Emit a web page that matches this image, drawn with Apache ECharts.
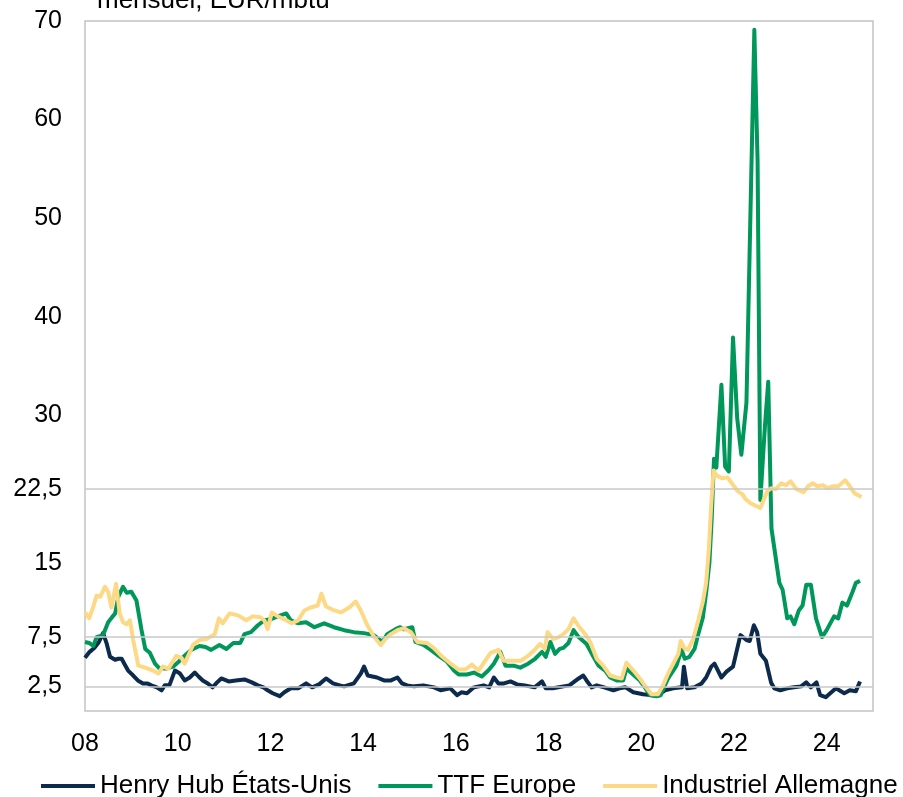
<!DOCTYPE html>
<html><head><meta charset="utf-8">
<script src="https://cdn.jsdelivr.net/npm/echarts@6/dist/echarts.min.js"></script>
<style>html,body{margin:0;padding:0;background:#fff}#c{width:903px;height:797px}</style>
</head><body><div id="c"></div>
<script>
// Henry Hub États-Unis
const hhT = [2008.00,2008.10,2008.20,2008.30,2008.39,2008.47,2008.54,2008.65,2008.72,2008.79,2008.86,2008.93,2009.04,2009.14,2009.25,2009.35,2009.43,2009.55,2009.65,2009.72,2009.82,2009.94,2010.05,2010.15,2010.26,2010.37,2010.45,2010.54,2010.65,2010.75,2010.85,2010.94,2011.10,2011.25,2011.44,2011.60,2011.73,2011.85,2011.94,2012.05,2012.20,2012.30,2012.44,2012.60,2012.77,2012.90,2013.05,2013.20,2013.35,2013.50,2013.59,2013.80,2013.95,2014.02,2014.10,2014.30,2014.45,2014.60,2014.74,2014.84,2014.95,2015.10,2015.30,2015.53,2015.67,2015.88,2016.03,2016.12,2016.24,2016.39,2016.60,2016.72,2016.82,2016.92,2017.04,2017.18,2017.32,2017.49,2017.70,2017.86,2017.94,2018.10,2018.32,2018.45,2018.65,2018.75,2018.82,2018.93,2019.04,2019.20,2019.40,2019.53,2019.66,2019.83,2020.04,2020.26,2020.40,2020.51,2020.69,2020.88,2020.92,2020.99,2021.15,2021.30,2021.40,2021.51,2021.58,2021.73,2021.84,2021.98,2022.14,2022.27,2022.34,2022.43,2022.50,2022.57,2022.69,2022.80,2022.87,2023.00,2023.15,2023.30,2023.45,2023.56,2023.66,2023.78,2023.86,2023.98,2024.20,2024.38,2024.50,2024.63,2024.72];
const hhV = [5.4,6.0,6.4,7.0,7.9,6.8,5.5,5.2,5.3,5.3,4.7,4.1,3.6,3.1,2.8,2.8,2.6,2.4,2.1,2.6,2.6,4.1,3.8,3.1,3.4,3.9,3.5,3.1,2.8,2.4,2.9,3.3,3.0,3.1,3.2,2.9,2.6,2.4,2.1,1.8,1.5,1.9,2.3,2.3,2.8,2.4,2.7,3.3,2.8,2.6,2.5,2.8,3.8,4.5,3.6,3.4,3.1,3.1,3.4,2.8,2.6,2.5,2.6,2.4,2.1,2.3,1.6,1.9,1.8,2.4,2.6,2.4,3.4,2.8,2.8,3.0,2.7,2.6,2.4,3.0,2.3,2.3,2.5,2.6,3.3,3.6,3.1,2.4,2.6,2.4,2.1,2.3,2.4,1.9,1.7,1.6,1.7,2.1,2.3,2.4,4.5,2.3,2.4,2.8,3.4,4.5,4.8,3.4,4.0,4.5,7.7,7.2,7.1,8.7,8.0,5.8,5.1,2.9,2.3,2.1,2.3,2.4,2.5,2.9,2.4,2.9,1.6,1.4,2.3,1.8,2.1,2.0,3.0];

// TTF Europe
const ttfT = [2008.00,2008.09,2008.18,2008.25,2008.39,2008.50,2008.58,2008.65,2008.72,2008.82,2008.90,2009.00,2009.11,2009.22,2009.30,2009.40,2009.51,2009.61,2009.75,2009.90,2010.02,2010.15,2010.29,2010.47,2010.60,2010.72,2010.90,2011.05,2011.20,2011.35,2011.44,2011.58,2011.73,2011.87,2012.00,2012.16,2012.34,2012.44,2012.59,2012.77,2012.95,2013.16,2013.37,2013.59,2013.80,2014.02,2014.23,2014.42,2014.52,2014.70,2014.80,2014.88,2015.06,2015.13,2015.30,2015.46,2015.63,2015.81,2015.96,2016.06,2016.24,2016.39,2016.56,2016.70,2016.82,2016.96,2017.07,2017.25,2017.39,2017.56,2017.71,2017.86,2017.94,2018.04,2018.14,2018.24,2018.32,2018.43,2018.54,2018.65,2018.82,2018.97,2019.08,2019.22,2019.33,2019.47,2019.61,2019.68,2019.80,2019.97,2020.08,2020.19,2020.33,2020.42,2020.51,2020.58,2020.69,2020.76,2020.87,2020.94,2021.04,2021.15,2021.23,2021.33,2021.40,2021.47,2021.52,2021.57,2021.62,2021.73,2021.81,2021.89,2021.98,2022.07,2022.16,2022.27,2022.44,2022.51,2022.57,2022.67,2022.74,2022.81,2022.98,2023.05,2023.15,2023.22,2023.30,2023.40,2023.48,2023.56,2023.66,2023.77,2023.90,2024.00,2024.16,2024.25,2024.34,2024.44,2024.56,2024.63,2024.72];
const ttfV = [7.0,6.9,6.6,7.5,7.7,9.0,9.5,9.9,11.6,12.6,12.0,12.1,11.2,8.2,6.3,5.9,4.8,4.3,4.3,4.5,5.0,5.6,6.2,6.6,6.5,6.2,6.7,6.3,6.9,6.9,7.8,8.0,8.7,9.2,9.3,9.6,9.9,9.2,8.9,9.0,8.5,8.9,8.5,8.2,8.0,7.9,7.7,7.0,7.8,8.3,8.5,8.3,8.5,7.0,6.7,6.2,5.6,5.0,4.1,3.7,3.7,3.9,3.5,4.1,4.8,6.0,4.6,4.6,4.4,4.8,5.3,6.0,5.5,7.0,5.8,6.3,6.4,6.9,8.2,7.5,6.8,5.5,4.6,4.1,3.4,3.1,3.1,4.3,3.8,3.1,2.4,1.6,1.5,1.6,2.6,3.3,4.1,4.6,6.2,5.3,5.5,6.3,7.8,9.5,12.0,15.0,19.5,25.6,24.7,33.1,24.8,24.3,37.9,29.7,26.0,31.3,69.1,55.8,21.4,29.0,33.4,18.5,13.0,12.3,9.4,9.6,8.8,10.2,10.7,12.8,12.8,9.4,7.5,8.2,9.6,9.4,11.0,10.7,12.1,13.0,13.2];

// Industriel Allemagne
const deT = [2008.00,2008.09,2008.18,2008.25,2008.33,2008.43,2008.50,2008.57,2008.67,2008.75,2008.82,2008.90,2008.97,2009.04,2009.15,2009.30,2009.47,2009.58,2009.68,2009.80,2009.97,2010.08,2010.15,2010.33,2010.47,2010.62,2010.80,2010.89,2010.97,2011.12,2011.30,2011.48,2011.62,2011.78,2011.87,2011.94,2012.03,2012.16,2012.30,2012.46,2012.60,2012.73,2012.87,2013.02,2013.10,2013.20,2013.38,2013.52,2013.70,2013.84,2013.95,2014.09,2014.24,2014.38,2014.48,2014.60,2014.74,2014.88,2015.03,2015.17,2015.38,2015.52,2015.71,2015.89,2016.06,2016.20,2016.35,2016.49,2016.62,2016.75,2016.92,2017.03,2017.25,2017.40,2017.56,2017.70,2017.82,2017.92,2017.98,2018.10,2018.22,2018.32,2018.43,2018.54,2018.65,2018.79,2018.90,2019.04,2019.18,2019.33,2019.47,2019.58,2019.68,2019.83,2019.97,2020.12,2020.22,2020.36,2020.47,2020.58,2020.69,2020.80,2020.85,2020.94,2021.01,2021.12,2021.23,2021.33,2021.40,2021.46,2021.51,2021.56,2021.62,2021.75,2021.86,2021.97,2022.08,2022.18,2022.25,2022.35,2022.48,2022.57,2022.64,2022.72,2022.80,2022.90,2023.02,2023.12,2023.22,2023.35,2023.50,2023.60,2023.70,2023.80,2023.92,2024.02,2024.12,2024.25,2024.40,2024.50,2024.60,2024.75];
const deV = [10.0,9.4,10.6,11.7,11.6,12.6,12.1,10.5,12.9,9.9,9.0,8.8,9.2,7.2,4.6,4.4,4.1,3.8,4.5,4.3,5.6,5.4,4.8,6.7,7.2,7.3,7.8,9.4,8.9,9.9,9.7,9.2,9.6,9.5,9.2,8.3,10.0,9.6,9.3,8.9,9.2,10.2,10.5,10.7,11.9,10.6,10.2,10.0,10.5,11.1,10.2,8.7,7.5,6.7,7.3,7.8,8.2,8.4,8.0,7.0,6.9,6.4,5.5,4.8,4.2,4.2,4.7,4.1,5.0,5.9,6.2,5.1,5.1,5.1,5.6,6.2,6.8,6.3,8.0,7.3,7.5,7.8,8.3,9.4,8.6,7.8,7.0,5.3,4.6,3.6,3.4,3.3,4.9,4.1,3.3,2.3,1.7,1.7,2.6,3.8,4.8,5.8,7.1,6.3,6.2,7.3,9.2,11.1,13.0,16.5,21.0,24.4,23.9,23.6,23.7,23.0,22.3,22.0,21.5,21.1,20.8,20.6,21.4,22.3,22.6,22.5,23.1,22.9,23.3,22.5,22.2,22.8,23.1,22.8,22.9,22.6,22.8,22.8,23.4,22.8,22.1,21.7];

const names = ['Henry Hub États-Unis', 'TTF Europe', 'Industriel Allemagne'];
const colors = ['#0c2a4c', '#00975a', '#fdd985'];
const yTicks = [2.5, 7.5, 15, 22.5, 30, 40, 50, 60, 70];
const gridValues = [2.5, 7.5, 22.5];
const xTicks = [2008, 2010, 2012, 2014, 2016, 2018, 2020, 2022, 2024];
const title = 'mensuel, EUR/mbtu';

const zip = (t, v) => t.map((x, i) => [x, v[i]]);
const FONT = "'Liberation Sans', Arial, sans-serif";

const chart = echarts.init(document.getElementById('c'), null, {renderer: 'canvas'});
chart.setOption({
  animation: false,
  backgroundColor: '#fff',
  title: {text: title, left: 92, top: -17, textStyle: {fontFamily: FONT, fontSize: 26, fontWeight: 'normal', color: '#000'}},
  legend: {
    data: names, left: 36, top: 768, itemWidth: 54, itemHeight: 4, itemGap: 27, icon: 'rect',
    textStyle: {fontFamily: FONT, fontSize: 26, color: '#000'}
  },
  grid: {left: 85, right: 30, top: 21, bottom: 86, show: true, borderColor: '#c4c4c4', borderWidth: 1.5, backgroundColor: 'transparent'},
  xAxis: {
    type: 'value', min: 2008, max: 2025,
    axisLine: {show: false}, axisTick: {show: false}, splitLine: {show: false},
    axisLabel: {customValues: xTicks, formatter: v => String(v).slice(2), fontFamily: FONT, fontSize: 25, color: '#000', margin: 21}
  },
  yAxis: {
    type: 'value', min: 0, max: 70,
    axisLine: {show: false}, axisTick: {show: false}, splitLine: {show: false},
    axisLabel: {customValues: yTicks, formatter: v => String(v).replace('.', ','), fontFamily: FONT, fontSize: 25, color: '#000', margin: 23}
  },
  series: [
    {type: 'line', name: '_grid', data: [], z: 1, silent: true,
     markLine: {silent: true, symbol: ['none', 'none'], label: {show: false},
       lineStyle: {color: '#c8c8c8', width: 1.5, type: 'solid'},
       data: gridValues.map(v => ({yAxis: v}))}},
    ...names.map((n, i) => ({
      type: 'line', name: n, data: zip([hhT, ttfT, deT][i], [hhV, ttfV, deV][i]),
      showSymbol: false, symbol: 'none', z: 2 + i,
      lineStyle: {color: colors[i], width: 4, join: 'round'}, itemStyle: {color: colors[i]}
    }))
  ]
});
</script></body></html>
